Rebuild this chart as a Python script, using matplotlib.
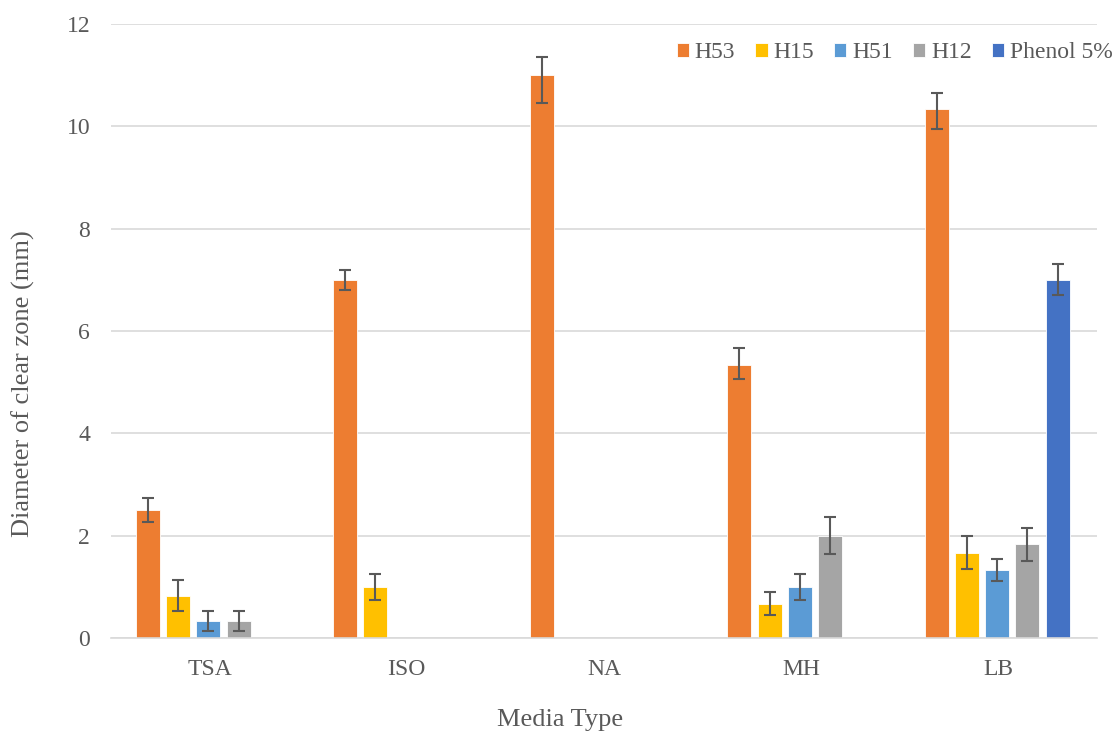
import numpy as np
import matplotlib
matplotlib.use("Agg")
import matplotlib.pyplot as plt

# -------------------------
# Data
# -------------------------
media = ["TSA", "ISO", "NA", "MH", "LB"]
series = ["H53", "H15", "H51", "H12", "Phenol 5%"]

h53 = [2.5, 7.0, 11.0, 5.33, 10.33]
h15 = [0.83, 1.0, 0.0, 0.67, 1.67]
h51 = [0.33, 0.0, 0.0, 1.0, 1.33]
h12 = [0.33, 0.0, 0.0, 2.0, 1.83]
phenol = [0.0, 0.0, 0.0, 0.0, 7.0]

# error bars (lower, upper); NaN = no error bar shown
h53_err_lo = [0.23, 0.2, 0.55, 0.27, 0.38]
h53_err_hi = [0.23, 0.2, 0.36, 0.33, 0.33]
h15_err = [0.31, 0.26, np.nan, 0.22, 0.33]
h51_err = [0.2, np.nan, np.nan, 0.26, 0.21]
h12_err = [0.2, np.nan, np.nan, 0.36, 0.32]
phenol_err = [np.nan, np.nan, np.nan, np.nan, 0.3]

colors = ["#ED7D31", "#FFC000", "#5B9BD5", "#A5A5A5", "#4472C4"]

# -------------------------
# Figure setup
# -------------------------
plt.rcParams["font.family"] = ["Liberation Serif", "DejaVu Serif"]
text_color = "#595959"
grid_color = "#D9D9D9"

fig = plt.figure(figsize=(11.14, 7.34), dpi=100)
ax = fig.add_axes([0.0996, 0.1308, 0.8851, 0.8365])

values = [h53, h15, h51, h12, phenol]
errors = [
    [h53_err_lo, h53_err_hi],
    [h15_err, h15_err],
    [h51_err, h51_err],
    [h12_err, h12_err],
    [phenol_err, phenol_err],
]

x = np.arange(len(media))
slot = 0.1536
width = 0.122

for i, (name, vals, err, col) in enumerate(zip(series, values, errors, colors)):
    pos = x + (i - 2) * slot - 0.006
    ax.bar(pos, vals, width=width, color=col, edgecolor="white",
           linewidth=0.6, label=name, zorder=2)
    ax.errorbar(pos, vals, yerr=np.array(err), fmt="none", ecolor="#595959",
                elinewidth=1.5, capsize=4.3, capthick=1.5, zorder=3)

# -------------------------
# Axes styling
# -------------------------
ax.set_xlim(-0.5, len(media) - 0.5)
ax.set_ylim(0, 12)
ax.set_yticks(range(0, 13, 2))
ax.set_xticks(x)
ax.set_xticklabels(media)

ax.grid(axis="y", color=grid_color, linewidth=1.2, zorder=0)
ax.set_axisbelow(True)
for side in ["top", "right", "left"]:
    ax.spines[side].set_visible(False)
ax.spines["bottom"].set_color(grid_color)
ax.spines["bottom"].set_linewidth(1.2)

ax.tick_params(axis="y", length=0, pad=15, labelsize=17, labelcolor=text_color)
ax.tick_params(axis="x", length=0, pad=15, labelsize=17, labelcolor=text_color)

ax.set_xlabel("Media Type", fontsize=19, color=text_color)
ax.xaxis.set_label_coords(0.455, -0.1336)
ax.xaxis.label.set_va("center")
ax.set_ylabel("Diameter of clear zone (mm)", fontsize=19, color=text_color)
ax.yaxis.set_label_coords(-0.089, 0.415)
ax.yaxis.label.set_va("center")

leg = ax.legend(loc="center right", bbox_to_anchor=(0.999, 0.928),
                bbox_transform=fig.transFigure, ncol=5, frameon=False,
                fontsize=17, handlelength=0.52, handleheight=0.52,
                handletextpad=0.25, columnspacing=0.85, borderaxespad=0.0,
                borderpad=0.0)
for t in leg.get_texts():
    t.set_color(text_color)

plt.savefig("out.png", dpi=100)
